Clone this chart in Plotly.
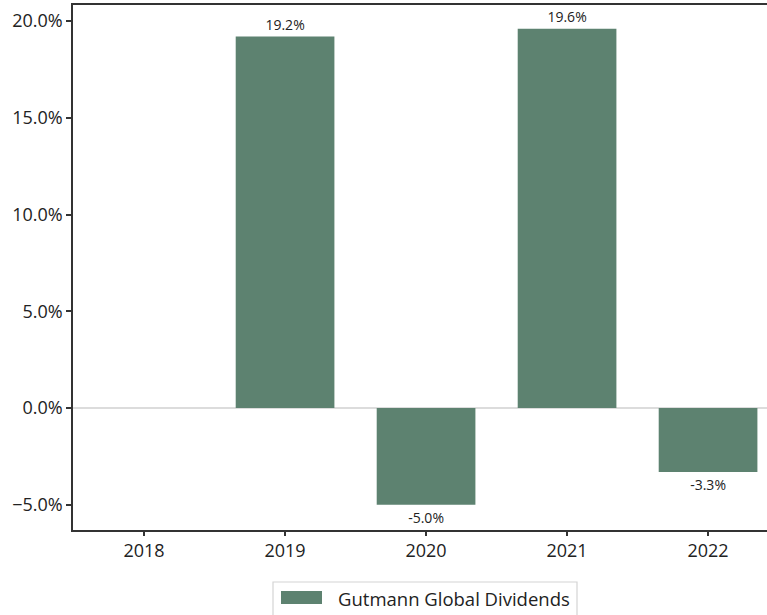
import plotly.graph_objects as go

years = ["2018", "2019", "2020", "2021", "2022"]
returns = [None, 0.192, -0.050, 0.196, -0.033]
series_name = "Gutmann Global Dividends"
y_ticks = [-0.05, 0.0, 0.05, 0.10, 0.15, 0.20]

labels = ["" if v is None else f"{v*100:.1f}%" for v in returns]

FONT = "Open Sans, Noto Sans, DejaVu Sans, sans-serif"
AX = "#333333"
BAR = "#5d8270"

W, H = 767, 615
ML, MR, MT, MB = 73, 0, 5, 85
PW, PH = W - ML - MR, H - MT - MB


def px_x(p):
    return (p - ML) / PW


def px_y(p):
    return (H - MB - p) / PH


fig = go.Figure()
fig.add_trace(go.Bar(
    x=list(range(len(years))), y=returns, name=series_name,
    marker=dict(color=BAR, line=dict(width=0)),
    width=0.7,
    text=labels, textposition="outside", constraintext="none",
    textfont=dict(size=14, color="#222222", family=FONT),
    cliponaxis=False, showlegend=False,
))

# custom legend (box, wide swatch, label) below the plot
fig.add_shape(type="rect", xref="paper", yref="paper",
              x0=px_x(273), x1=px_x(577), y0=px_y(582), y1=px_y(625),
              line=dict(color="#d4d4d4", width=1.2), fillcolor="white", layer="above")
fig.add_shape(type="rect", xref="paper", yref="paper",
              x0=px_x(281), x1=px_x(322), y0=px_y(591), y1=px_y(604),
              line=dict(width=0), fillcolor=BAR, layer="above")
fig.add_annotation(xref="paper", yref="paper", x=px_x(336), y=px_y(598),
                   xanchor="left", yanchor="middle", text=series_name, showarrow=False,
                   font=dict(size=18.5, color="#222222", family=FONT))

fig.update_layout(
    width=W, height=H,
    margin=dict(l=ML, r=MR, t=MT, b=MB),
    paper_bgcolor="white", plot_bgcolor="white",
    font=dict(family=FONT, size=18, color="#222222"),
    showlegend=False,
    xaxis=dict(
        tickmode="array", tickvals=list(range(len(years))), ticktext=years,
        range=[-0.504, 4.418], showgrid=False, zeroline=False,
        showline=True, linecolor=AX, linewidth=1.5, mirror=True,
        ticks="outside", ticklen=4, tickcolor=AX, tickwidth=1.5,
        tickfont=dict(size=18, color="#222222"),
    ),
    yaxis=dict(
        range=[-0.063, 0.2083], tickvals=y_ticks, tickformat=".1%",
        showgrid=False, zeroline=True, zerolinecolor="#dcdcdc", zerolinewidth=1.5,
        showline=True, linecolor=AX, linewidth=1.5,
        ticks="outside", ticklen=5, tickcolor=AX, tickwidth=1.5,
        tickfont=dict(size=18, color="#222222"),
    ),
)

fig.write_html(
    "out.html",
    config={"displayModeBar": False},
    post_script="document.body.style.margin='0';document.body.style.overflow='hidden';",
)
